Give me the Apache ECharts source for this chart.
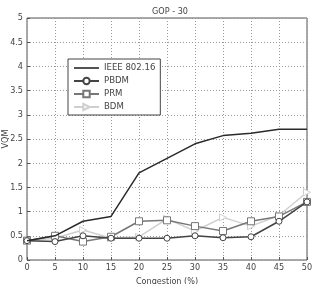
<!DOCTYPE html>
<html>
<head>
<meta charset="utf-8">
<script src="https://cdn.jsdelivr.net/npm/echarts@6/dist/echarts.min.js"></script>
<style>html,body{margin:0;padding:0;background:#fff}#main{width:312px;height:284px}</style>
</head>
<body>
<div id="main"></div>
<script>
// congestion levels (%)
var xVals = [0, 5, 10, 15, 20, 25, 30, 35, 40, 45, 50];
var ieee = [0.4, 0.5, 0.8, 0.9, 1.8, 2.1, 2.4, 2.57, 2.62, 2.7, 2.7];
var pbdm = [0.4, 0.38, 0.5, 0.45, 0.45, 0.45, 0.5, 0.46, 0.48, 0.8, 1.2];
var prm  = [0.4, 0.5, 0.38, 0.48, 0.8, 0.82, 0.7, 0.6, 0.8, 0.9, 1.2];
var bdm  = [0.4, 0.45, 0.62, 0.45, 0.48, 0.85, 0.6, 0.88, 0.7, 0.92, 1.4];

var pairs = function (ys) {
  var res = [];
  for (var i = 0; i < xVals.length; i++) res.push([xVals[i], ys[i]]);
  return res;
};

var txt = {color: '#444', fontSize: 9, fontFamily: 'DejaVu Sans Condensed, Liberation Sans Narrow, sans-serif'};
var gridLine = {show: true, lineStyle: {color: '#999', type: [1, 2], width: 1}};

var chart = echarts.init(document.getElementById('main'));
chart.setOption({
  animation: false,
  title: {
    text: 'GOP - 30', left: 165, top: 2, textAlign: 'center',
    textStyle: {fontSize: 9, fontWeight: 'normal', color: '#444', fontFamily: txt.fontFamily}
  },
  grid: {left: 27, right: 5, top: 18, bottom: 24, show: true, borderColor: '#555', borderWidth: 1,
         outerBoundsMode: 'none', containLabel: false},
  legend: {
    orient: 'vertical', left: 68, top: 59,
    backgroundColor: '#fff', borderColor: '#444', borderWidth: 1,
    padding: [4, 5, 3, 5], itemGap: 3, itemWidth: 25, itemHeight: 8,
    textStyle: {fontSize: 9.5, color: '#444', fontFamily: txt.fontFamily},
    data: [
      {name: 'IEEE 802.16', icon: 'path://M0 3.2H25V4.8H0Z'},
      'PBDM', 'PRM', 'BDM'
    ]
  },
  xAxis: {
    type: 'value', min: 0, max: 50, interval: 5,
    name: 'Congestion (%)', nameLocation: 'middle', nameGap: 12, nameTextStyle: txt,
    axisLine: {show: false}, axisTick: {show: true, inside: true, length: 3, lineStyle: {color: '#555'}},
    axisLabel: Object.assign({margin: 3}, txt), splitLine: gridLine
  },
  yAxis: {
    type: 'value', min: 0, max: 5, interval: 0.5,
    name: 'VQM', nameLocation: 'middle', nameGap: 21, nameMoveOverlap: false,
    nameTextStyle: Object.assign({verticalAlign: 'middle'}, txt),
    axisLine: {show: false}, axisTick: {show: true, inside: true, length: 3, lineStyle: {color: '#555'}},
    axisLabel: Object.assign({margin: 4}, txt), splitLine: gridLine
  },
  series: [
    {name: 'IEEE 802.16', type: 'line', data: pairs(ieee), showSymbol: false, symbol: 'none',
     lineStyle: {color: '#2a2a2a', width: 1.5}, itemStyle: {color: '#2a2a2a'}, z: 5},
    {name: 'PBDM', type: 'line', data: pairs(pbdm), symbol: 'circle', symbolSize: 6,
     lineStyle: {color: '#444', width: 1.5}, itemStyle: {color: '#fff', borderColor: '#444', borderWidth: 1}, z: 4},
    {name: 'PRM', type: 'line', data: pairs(prm), symbol: 'rect', symbolSize: 7,
     lineStyle: {color: '#777', width: 1.5}, itemStyle: {color: '#fff', borderColor: '#777', borderWidth: 1}, z: 3},
    {name: 'BDM', type: 'line', data: pairs(bdm), symbol: 'triangle', symbolRotate: -90, symbolSize: 7,
     lineStyle: {color: '#cfcfcf', width: 1.5}, itemStyle: {color: '#fff', borderColor: '#cfcfcf', borderWidth: 1}, z: 2}
  ]
});
</script>
</body>
</html>
